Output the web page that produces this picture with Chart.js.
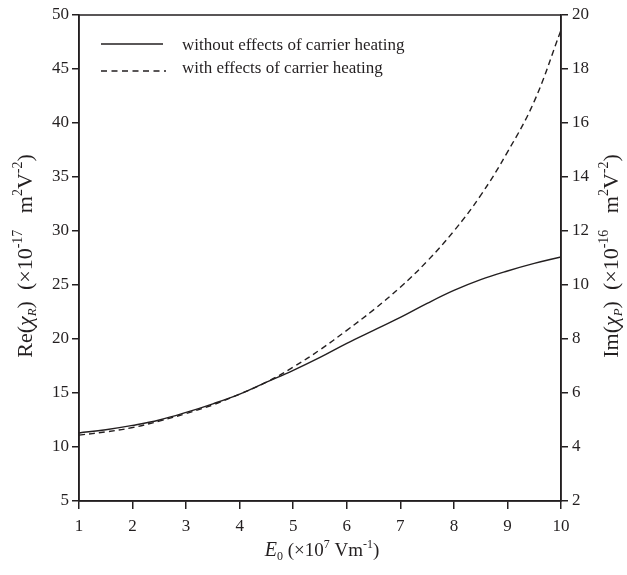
<!DOCTYPE html>
<html><head><meta charset="utf-8">
<script src="https://cdn.jsdelivr.net/npm/chart.js@4"></script>
<style>html,body{margin:0;padding:0;background:#fff}#wrap{width:627px;height:575px}</style>
</head><body><div id="wrap"><canvas id="c" width="627" height="575"></canvas></div>
<script>
const E0 = [1,1.5,2,2.5,3,3.5,4,4.5,5,5.5,6,6.5,7,7.5,8,8.5,9,9.5,10];
const reChi = [11.3,11.6,12.0,12.5,13.2,14.0,14.9,16.0,17.1,18.3,19.6,20.8,22.0,23.3,24.5,25.5,26.3,27.0,27.6];
const imChi = [4.44,4.56,4.72,4.96,5.24,5.56,5.96,6.4,6.96,7.6,8.32,9.08,9.92,10.88,12.0,13.32,14.92,16.8,19.44];
const seriesNames = ['without effects of carrier heating','with effects of carrier heating'];
const xTicks = [1,2,3,4,5,6,7,8,9,10];
const leftTicks = [5,10,15,20,25,30,35,40,45,50];
const rightTicks = [2,4,6,8,10,12,14,16,18,20];

const INK = '#231f20';
const FONT = 'Liberation Serif';

function rich(ctx, parts, x, y, align) {
  // parts: [text, size, offset(y), italic]
  let w = 0;
  parts.forEach(p => { ctx.font = (p[3]?'italic ':'') + p[1] + 'px "' + FONT + '"'; w += ctx.measureText(p[0]).width; });
  let cx = align === 'center' ? x - w/2 : x;
  parts.forEach(p => {
    ctx.font = (p[3]?'italic ':'') + p[1] + 'px "' + FONT + '"';
    ctx.fillText(p[0], cx, y + p[2]);
    cx += ctx.measureText(p[0]).width;
  });
}

const deco = {
  id: 'deco',
  afterDraw(chart) {
    const ctx = chart.ctx, a = chart.chartArea;
    ctx.save();
    ctx.strokeStyle = INK; ctx.lineWidth = 1.5;
    ctx.strokeRect(a.left, a.top, a.right - a.left, a.bottom - a.top);
    ctx.fillStyle = INK; ctx.textBaseline = 'alphabetic';
    // legend
    ctx.lineWidth = 1.3;
    ctx.beginPath(); ctx.moveTo(101, 44); ctx.lineTo(163, 44); ctx.stroke();
    ctx.setLineDash([6,4.5]);
    ctx.beginPath(); ctx.moveTo(101, 71); ctx.lineTo(166, 71); ctx.stroke();
    ctx.setLineDash([]);
    ctx.font = '17px "' + FONT + '"';
    ctx.textAlign = 'left';
    ctx.fillText(seriesNames[0], 182, 50);
    ctx.fillText(seriesNames[1], 182, 73);
    // x title
    rich(ctx, [['E',20,0,true],['0',12,4,false],[' (\u00d710',19,0,false],['7',12,-8,false],[' Vm',19,0,false],['-1',12,-8,false],[')',19,0,false]], 322, 556, 'center');
    // left title
    ctx.save(); ctx.translate(32, 256); ctx.rotate(-Math.PI/2);
    rich(ctx, [['Re(',22,0,false],['\u03c7',22,0,true],['R',13,4,true],[')  (\u00d710',22,0,false],['-17',14,-10,false],['   m',22,0,false],['2',14,-10,false],['V',22,0,false],['-2',14,-10,false],[')',22,0,false]], 0, 0, 'center');
    ctx.restore();
    // right title
    ctx.save(); ctx.translate(618, 256); ctx.rotate(-Math.PI/2);
    rich(ctx, [['Im(',22,0,false],['\u03c7',22,0,true],['P',13,4,true],[')  (\u00d710',22,0,false],['-16',14,-10,false],['   m',22,0,false],['2',14,-10,false],['V',22,0,false],['-2',14,-10,false],[')',22,0,false]], 0, 0, 'center');
    ctx.restore();
    ctx.restore();
  }
};

const tickFont = { family: FONT, size: 17 };
new Chart(document.getElementById('c'), {
  type: 'line',
  data: {
    datasets: [
      { label: seriesNames[0], data: E0.map((x,i)=>({x, y: reChi[i]})), yAxisID: 'y',
        borderColor: INK, borderWidth: 1.4, pointRadius: 0, tension: 0.4 },
      { label: seriesNames[1], data: E0.map((x,i)=>({x, y: imChi[i]})), yAxisID: 'y2',
        borderColor: INK, borderWidth: 1.4, borderDash: [6,4], pointRadius: 0, tension: 0.4 }
    ]
  },
  options: {
    responsive: false, animation: false,
    layout: { padding: { top: 15, left: 0, right: 0, bottom: 0 } },
    plugins: { legend: { display: false }, tooltip: { enabled: false } },
    scales: {
      x: { type: 'linear', min: 1, max: 10,
        afterBuildTicks: s => { s.ticks = xTicks.map(v => ({ value: v })); },
        afterFit: s => { s.height = 74; },
        grid: { drawOnChartArea: false, drawTicks: true, tickLength: 8, color: INK, lineWidth: 1.5 },
        border: { display: true, color: INK, width: 1.5 },
        ticks: { font: tickFont, color: INK, padding: 7, maxRotation: 0 } },
      y: { type: 'linear', position: 'left', min: 5, max: 50,
        afterBuildTicks: s => { s.ticks = leftTicks.map(v => ({ value: v })); },
        afterFit: s => { s.width = 79; },
        grid: { drawOnChartArea: false, drawTicks: true, tickLength: 7, color: INK, lineWidth: 1.5 },
        border: { display: true, color: INK, width: 1.5 },
        ticks: { font: tickFont, color: INK, padding: 3 } },
      y2: { type: 'linear', position: 'right', min: 2, max: 20,
        afterBuildTicks: s => { s.ticks = rightTicks.map(v => ({ value: v })); },
        afterFit: s => { s.width = 66; },
        grid: { drawOnChartArea: false, drawTicks: true, tickLength: 7, color: INK, lineWidth: 1.5 },
        border: { display: true, color: INK, width: 1.5 },
        ticks: { font: tickFont, color: INK, padding: 4 } }
    }
  },
  plugins: [deco]
});
</script></body></html>
